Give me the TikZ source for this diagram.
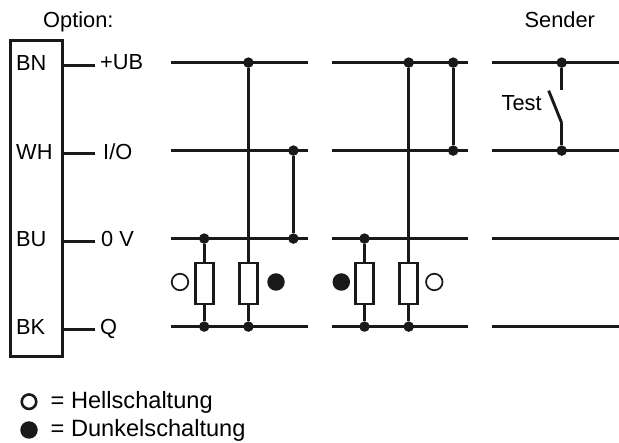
\documentclass[tikz,border=0pt]{standalone}
\usepackage{fontspec}
\setmainfont{Liberation Sans}
\tikzset{
	lbl/.style={inner sep=0pt,anchor=base west,font=\fontsize{21.8}{25}\selectfont},
	legendlbl/.style={inner sep=0pt,anchor=base west,font=\fontsize{23.6}{28}\selectfont},
	junction/.style={circle,fill=black!90,inner sep=0pt,minimum size=10.5pt},
	res/.style={draw=black!90,line width=2.9pt,fill=white,minimum width=18pt,minimum height=41pt,inner sep=0pt},
	openmark/.style={circle,draw=black!90,fill=white,line width=1.7pt,inner sep=0pt,minimum size=16.5pt},
	fullmark/.style={circle,fill=black!90,inner sep=0pt,minimum size=17.5pt},
	wire/.style={draw=black!90,line width=2.9pt}
}
\begin{document}
\begin{tikzpicture}[x=1pt,y=-1pt]
	\useasboundingbox (0,0) rectangle (619,443);
	% headings
	\node[lbl] (option) at (43,28) {Option:};
	\node[lbl] (sender) at (524.5,28) {Sender};
	% connector box
	\node[draw=black!90,line width=2.9pt,minimum width=52pt,minimum height=316pt,inner sep=0pt] (box) at (36.2,198.6) {};
	\node[lbl] (BN) at (16,70.5) {BN};
	\node[lbl] (WH) at (16,160) {WH};
	\node[lbl] (BU) at (16,246.7) {BU};
	\node[lbl] (BK) at (16,335) {BK};
	\node[lbl] (UB) at (100,70) {+UB};
	\node[lbl] (IO) at (103,160) {I/O};
	\node[lbl] (GND) at (101,246.7) {0 V};
	\node[lbl] (Q) at (100,335) {Q};
	\coordinate (s1) at (62,65.7);
	\coordinate (s2) at (62,153.3);
	\coordinate (s3) at (62,241.7);
	\coordinate (s4) at (62,329.7);
	\coordinate (t1) at (95,65.7);
	\coordinate (t2) at (95,153.3);
	\coordinate (t3) at (95,241.7);
	\coordinate (t4) at (95,329.7);
	% bus ends
	\coordinate (a1) at (171,62.6);
	\coordinate (a2) at (171,150.6);
	\coordinate (a3) at (171,238.6);
	\coordinate (a4) at (171,326.6);
	\coordinate (b1) at (307.5,62.6);
	\coordinate (b2) at (307.5,150.6);
	\coordinate (b3) at (307.5,238.6);
	\coordinate (b4) at (307.5,326.6);
	\coordinate (c1) at (331.5,62.6);
	\coordinate (c2) at (331.5,150.6);
	\coordinate (c3) at (331.5,238.6);
	\coordinate (c4) at (331.5,326.6);
	\coordinate (d1) at (468,62.6);
	\coordinate (d2) at (468,150.6);
	\coordinate (d3) at (468,238.6);
	\coordinate (d4) at (468,326.6);
	\coordinate (e1) at (492,62.6);
	\coordinate (e2) at (492,150.6);
	\coordinate (e3) at (492,238.6);
	\coordinate (e4) at (492,326.6);
	\coordinate (f1) at (619,62.6);
	\coordinate (f2) at (619,150.6);
	\coordinate (f3) at (619,238.6);
	\coordinate (f4) at (619,326.6);
	% resistors
	\node[res] (R1) at (204.2,283.5) {};
	\node[res] (R2) at (248.4,283.5) {};
	\node[res] (R3) at (364.5,283.5) {};
	\node[res] (R4) at (408.7,283.5) {};
	% junctions
	\node[junction] (J1) at (248.4,62.6) {};
	\node[junction] (J2) at (293.4,150.6) {};
	\node[junction] (J3) at (204.2,238.6) {};
	\node[junction] (J4) at (293.4,238.6) {};
	\node[junction] (J5) at (204.2,326.6) {};
	\node[junction] (J6) at (248.4,326.6) {};
	\node[junction] (J7) at (408.7,62.6) {};
	\node[junction] (J8) at (453.2,62.6) {};
	\node[junction] (J9) at (453.2,150.6) {};
	\node[junction] (J10) at (364.5,238.6) {};
	\node[junction] (J11) at (364.5,326.6) {};
	\node[junction] (J12) at (408.7,326.6) {};
	\node[junction] (J13) at (561.7,62.6) {};
	\node[junction] (J14) at (561.7,150.6) {};
	% switch
	\coordinate (sw1) at (561.7,90);
	\coordinate (sw2) at (548.7,90.7);
	\coordinate (sw3) at (561.7,123);
	\node[lbl] (test) at (501.5,111) {Test};
	% marks
	\node[openmark] (m1) at (180,282) {};
	\node[fullmark] (m2) at (276,282) {};
	\node[fullmark] (m3) at (341.3,282) {};
	\node[openmark] (m4) at (434.3,282) {};
	% legend
	\node[openmark,line width=2.6pt,minimum size=14.5pt] (m5) at (29,401.7) {};
	\node[fullmark] (m6) at (29,430) {};
	\node[legendlbl] (hell) at (50.5,409) {= Hellschaltung};
	\node[legendlbl] (dunkel) at (50.5,436.7) {= Dunkelschaltung};
	%
	\path[wire]
	% stubs
	(s1) edge (t1)
	(s2) edge (t2)
	(s3) edge (t3)
	(s4) edge (t4)
	% buses
	(a1) edge (b1)
	(a2) edge (b2)
	(a3) edge (b3)
	(a4) edge (b4)
	(c1) edge (d1)
	(c2) edge (d2)
	(c3) edge (d3)
	(c4) edge (d4)
	(e1) edge (f1)
	(e2) edge (f2)
	(e3) edge (f3)
	(e4) edge (f4)
	% vertical wires
	(J1) edge (R2)
	(J2) edge (J4)
	(J3) edge (R1)
	(R1) edge (J5)
	(R2) edge (J6)
	(J7) edge (R4)
	(J8) edge (J9)
	(J10) edge (R3)
	(R3) edge (J11)
	(R4) edge (J12)
	% switch
	(J13) edge (sw1)
	(J14) edge (sw3)
	(sw3) edge (sw2);
\end{tikzpicture}
\end{document}
